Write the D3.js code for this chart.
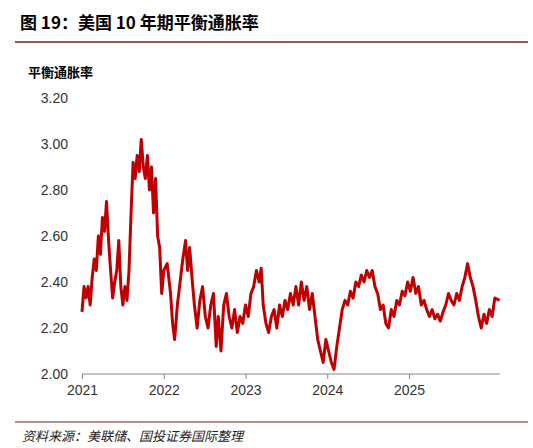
<!DOCTYPE html>
<html><head><meta charset="utf-8">
<script src="https://cdn.jsdelivr.net/npm/d3@7"></script>
<style>body{margin:0;background:#fff;font-family:"Liberation Sans",Arial,sans-serif;}</style>
</head><body><div id="chart"></div>
<script>
// months since Jan 2021
var months = [0,0.3,0.6,0.9,1.2,1.5,1.8,2.1,2.4,2.7,3.0,3.3,3.6,3.9,4.2,4.5,4.8,5.1,5.4,5.7,6.0,6.3,6.6,6.9,7.2,7.5,7.8,8.1,8.4,8.7,9.0,9.3,9.6,9.9,10.2,10.5,10.8,11.1,11.4,11.7,12.0,
  12.5,13,13.3,13.6,14,14.4,14.8,15.2,15.5,15.8,16.2,16.5,16.9,17.3,17.7,18.1,18.5,18.9,19.3,19.7,20,20.4,20.8,21.2,21.6,22,22.4,22.8,23.2,23.6,24,
  24.4,24.8,25.2,25.6,26,26.3,26.6,27,27.4,27.8,28.2,28.6,29,29.4,29.8,30.2,30.6,31,31.4,31.8,32.2,32.6,33,33.4,33.8,34.2,34.6,35,35.4,35.8,36.2,36.6,37,37.4,37.8,38.2,
  38.6,39,39.4,39.8,40.2,40.6,41,41.4,41.8,42.2,42.6,43,43.4,43.8,44.2,44.6,45,45.4,45.8,46.2,46.6,47,47.4,47.8,48.2,
  48.6,49,49.4,49.8,50.2,50.6,51,51.4,51.8,52.2,52.6,53,53.4,53.8,54.2,54.6,55,55.4,55.8,56.2,56.6,57,57.4,57.8,58.2,58.6,59,59.4,59.8,60.2,60.6,61.3];
var rates = [2.27,2.38,2.33,2.38,2.30,2.42,2.50,2.45,2.60,2.52,2.68,2.62,2.75,2.58,2.45,2.33,2.40,2.45,2.58,2.38,2.30,2.38,2.32,2.45,2.70,2.92,2.85,2.95,2.88,3.02,2.90,2.85,2.95,2.80,2.90,2.70,2.85,2.60,2.55,2.35,2.45,
  2.48,2.35,2.22,2.15,2.30,2.40,2.50,2.58,2.45,2.55,2.40,2.30,2.20,2.32,2.38,2.25,2.20,2.30,2.35,2.12,2.25,2.10,2.30,2.35,2.25,2.20,2.28,2.18,2.25,2.22,2.30,
  2.25,2.35,2.38,2.45,2.40,2.46,2.30,2.22,2.18,2.25,2.28,2.20,2.30,2.25,2.32,2.28,2.35,2.30,2.38,2.30,2.40,2.32,2.38,2.28,2.35,2.25,2.15,2.10,2.05,2.15,2.10,2.05,2.02,2.12,2.20,2.28,
  2.32,2.30,2.36,2.33,2.40,2.38,2.43,2.40,2.45,2.42,2.45,2.38,2.35,2.28,2.30,2.22,2.20,2.28,2.25,2.32,2.30,2.36,2.34,2.40,2.36,
  2.42,2.35,2.38,2.30,2.32,2.28,2.25,2.28,2.24,2.26,2.23,2.27,2.30,2.35,2.32,2.30,2.35,2.32,2.38,2.42,2.48,2.42,2.38,2.32,2.25,2.20,2.26,2.22,2.28,2.25,2.33,2.32];
var yearLabels = ["2021","2022","2023","2024","2025"];
var yTicks = [2.0,2.2,2.4,2.6,2.8,3.0,3.2];

var W = 533, H = 448;
var svg = d3.select("#chart").append("svg").attr("width", W).attr("height", H);

var x = d3.scaleLinear().domain([0, 48]).range([82, 409]);
var y = d3.scaleLinear().domain([2.0, 3.2]).range([374, 98]);

// title
svg.append("text").attr("x", 20).attr("y", 29).attr("font-size", 17).attr("font-weight", "bold")
  .attr("font-family", "'Noto Sans CJK SC',sans-serif").attr("fill", "#000").text("图 19：美国 10 年期平衡通胀率");
svg.append("line").attr("x1", 15).attr("x2", 528).attr("y1", 42).attr("y2", 42).attr("stroke", "#7f1d1d").attr("stroke-width", 1.5);

svg.append("text").attr("x", 28).attr("y", 77).attr("font-size", 13).attr("font-weight", "bold")
  .attr("font-family", "'Noto Sans CJK SC',sans-serif").text("平衡通胀率");

// y labels
svg.selectAll(".yl").data(yTicks).enter().append("text")
  .attr("x", 68).attr("y", function(d){ return y(d) + 5; })
  .attr("text-anchor", "end").attr("font-size", 14).attr("fill", "#333")
  .text(function(d){ return d.toFixed(2); });

// x axis
var xAxis = d3.axisBottom(x).tickValues([0,12,24,36,48]).tickSize(5)
  .tickFormat(function(d, i){ return yearLabels[i]; });
var gx = svg.append("g").attr("transform", "translate(0," + y(2.0) + ")").call(xAxis);
gx.select(".domain").attr("d", "M82,0H500").attr("stroke", "#888");
gx.selectAll(".tick line").attr("stroke", "#888");
gx.selectAll("text").attr("font-size", 14).attr("fill", "#333").attr("font-family", "'Liberation Sans',Arial,sans-serif").attr("dy", "0.9em");

var line = d3.line().x(function(d, i){ return x(months[i]); }).y(function(d){ return y(d); });
svg.append("path").datum(rates).attr("d", line).attr("fill", "none")
  .attr("stroke", "#c00000").attr("stroke-width", 3).attr("stroke-linejoin", "round");

// source
svg.append("line").attr("x1", 15).attr("x2", 528).attr("y1", 422).attr("y2", 422).attr("stroke", "#7f1d1d").attr("stroke-width", 1);
svg.append("text").attr("x", 22).attr("y", 441).attr("font-size", 13).attr("font-style", "italic")
  .attr("font-family", "'Noto Sans CJK SC',sans-serif").attr("fill", "#222").text("资料来源：美联储、国投证券国际整理");
</script></body></html>
